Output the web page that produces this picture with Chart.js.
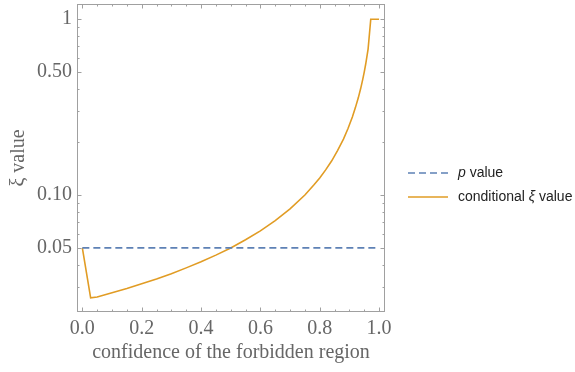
<!DOCTYPE html>
<html>
<head>
<meta charset="utf-8">
<script src="https://cdn.jsdelivr.net/npm/chart.js@4"></script>
<style>
  html, body { margin: 0; padding: 0; background: #fff; }
  #wrap { width: 575px; height: 372px; position: relative; }
</style>
</head>
<body>
<div id="wrap"><canvas id="xiChart"></canvas></div>
<script>
// values
const pX = [0, 1];
const pValue = [0.05, 0.05];

const condX = [0, 0.028, 0.05, 0.1, 0.15, 0.2, 0.25, 0.3, 0.35, 0.4, 0.45, 0.5, 0.55, 0.6, 0.65,
  0.7, 0.75, 0.78, 0.8, 0.82, 0.84, 0.86, 0.88, 0.895, 0.91, 0.92, 0.93, 0.938, 0.945, 0.95,
  0.955, 0.963, 0.972, 1.0];
const condXi = [0.05, 0.026, 0.0263, 0.0278, 0.0294, 0.0313, 0.0333, 0.0357, 0.0385, 0.0417, 0.0455, 0.05, 0.0556, 0.0625, 0.0714,
  0.0833, 0.10, 0.114, 0.125, 0.139, 0.156, 0.179, 0.208, 0.238, 0.278, 0.313, 0.357, 0.403, 0.455, 0.50,
  0.556, 0.676, 1.0, 1.0];

const xTicks = [0, 0.2, 0.4, 0.6, 0.8, 1.0];
const xMinorTicks = [0.05, 0.1, 0.15, 0.25, 0.3, 0.35, 0.45, 0.5, 0.55, 0.65, 0.7, 0.75, 0.85, 0.9, 0.95];
const yTicks = [0.05, 0.1, 0.5, 1];
const yTickLabels = ['0.05', '0.10', '0.50', '1'];
const yMinorTicks = [0.03, 0.04, 0.06, 0.07, 0.08, 0.09, 0.2, 0.3, 0.4, 0.6, 0.7, 0.8, 0.9];

const seriesNames = ['p value', 'conditional \u03BE value'];

const GRAY = '#666666';
const FRAME = '#a0a0a0';
const BLUE = '#5e81b5';
const ORANGE = '#e19c24';

function toPoints(xs, ys) {
  return xs.map((x, i) => ({ x, y: ys[i] }));
}

// Mathematica-style frame with inward ticks, drawn via the scales
const frameTicks = {
  id: 'frameTicks',
  afterDraw(chart) {
    const { ctx, chartArea: a, scales } = chart;
    const xs = scales.x, ys = scales.y;
    ctx.save();
    ctx.strokeStyle = FRAME;
    ctx.lineWidth = 1;
    ctx.strokeRect(a.left + 0.5, a.top + 0.5, a.right - a.left - 1, a.bottom - a.top - 1);
    ctx.beginPath();
    const xt = (v, len) => {
      const px = Math.round(xs.getPixelForValue(v)) + 0.5;
      ctx.moveTo(px, a.bottom); ctx.lineTo(px, a.bottom - len);
      ctx.moveTo(px, a.top); ctx.lineTo(px, a.top + len);
    };
    const yt = (v, len) => {
      const py = Math.round(ys.getPixelForValue(v)) + 0.5;
      ctx.moveTo(a.left, py); ctx.lineTo(a.left + len, py);
      ctx.moveTo(a.right, py); ctx.lineTo(a.right - len, py);
    };
    xTicks.forEach(v => xt(v, 4.5));
    xMinorTicks.forEach(v => xt(v, 2.5));
    yTicks.forEach(v => yt(v, 4.5));
    yMinorTicks.forEach(v => yt(v, 2.5));
    ctx.stroke();
    ctx.restore();
  }
};

// legend on the right, same look as the reference
const sideLegend = {
  id: 'sideLegend',
  afterDraw(chart) {
    const { ctx } = chart;
    const rows = [
      { y: 173, ds: chart.data.datasets[0], parts: [['italic ', 'p'], ['', ' value']] },
      { y: 197, ds: chart.data.datasets[1], parts: [['', 'conditional '], ['italic ', '\u03BE'], ['', ' value']] }
    ];
    ctx.save();
    rows.forEach(r => {
      ctx.beginPath();
      ctx.strokeStyle = r.ds.borderColor;
      ctx.lineWidth = r.ds.borderWidth;
      ctx.setLineDash(r.ds.borderDash || []);
      ctx.moveTo(408, r.y);
      ctx.lineTo(448, r.y);
      ctx.stroke();
      ctx.setLineDash([]);
      let x = 458;
      ctx.fillStyle = '#222';
      ctx.textBaseline = 'middle';
      r.parts.forEach(([style, txt]) => {
        ctx.font = style + '14px "Liberation Sans", Arial, sans-serif';
        ctx.fillText(txt, x, r.y);
        x += ctx.measureText(txt).width;
      });
    });
    ctx.restore();
  }
};

const ctx = document.getElementById('xiChart');
new Chart(ctx, {
  type: 'line',
  data: {
    datasets: [{
      label: seriesNames[0],
      data: toPoints(pX, pValue),
      borderColor: BLUE,
      borderWidth: 1.6,
      borderDash: [7, 4],
      pointRadius: 0,
      tension: 0
    }, {
      label: seriesNames[1],
      data: toPoints(condX, condXi),
      borderColor: ORANGE,
      borderWidth: 1.6,
      pointRadius: 0,
      tension: 0
    }]
  },
  options: {
    responsive: true,
    maintainAspectRatio: false,
    animation: false,
    layout: { padding: { top: 4, right: 190, left: 0, bottom: 0 } },
    plugins: {
      legend: { display: false },
      tooltip: { enabled: false }
    },
    scales: {
      x: {
        type: 'linear',
        min: -0.018,
        max: 1.02,
        grid: { display: false, drawTicks: false },
        border: { display: false },
        afterBuildTicks: (s) => { s.ticks = xTicks.map(v => ({ value: v })); },
        afterFit: (s) => { s.height = 60; s.paddingLeft = 0; s.paddingRight = 0; },
        ticks: {
          color: GRAY,
          padding: 5,
          maxRotation: 0,
          font: { family: '"Liberation Serif", "Times New Roman", serif', size: 20 },
          callback: (v) => Number(v).toFixed(1)
        },
        title: {
          display: true,
          text: 'confidence of the forbidden region',
          color: GRAY,
          padding: { top: 0, bottom: 7 },
          font: { family: '"Liberation Serif", "Times New Roman", serif', size: 20 }
        }
      },
      y: {
        type: 'logarithmic',
        min: 0.0216,
        max: 1.22,
        grid: { display: false, drawTicks: false },
        border: { display: false },
        afterBuildTicks: (s) => { s.ticks = yTicks.map(v => ({ value: v })); },
        afterFit: (s) => { s.width = 77; s.paddingTop = 0; s.paddingBottom = 0; },
        ticks: {
          color: GRAY,
          padding: 5,
          font: { family: '"Liberation Serif", "Times New Roman", serif', size: 20 },
          callback: (v) => {
            const i = yTicks.indexOf(v);
            return i >= 0 ? yTickLabels[i] : '';
          }
        },
        title: {
          display: true,
          text: '\u03BE value',
          color: GRAY,
          padding: { top: 7, bottom: 0 },
          font: { family: '"Liberation Serif", "Times New Roman", serif', size: 20 }
        }
      }
    }
  },
  plugins: [frameTicks, sideLegend]
});
</script>
</body>
</html>
